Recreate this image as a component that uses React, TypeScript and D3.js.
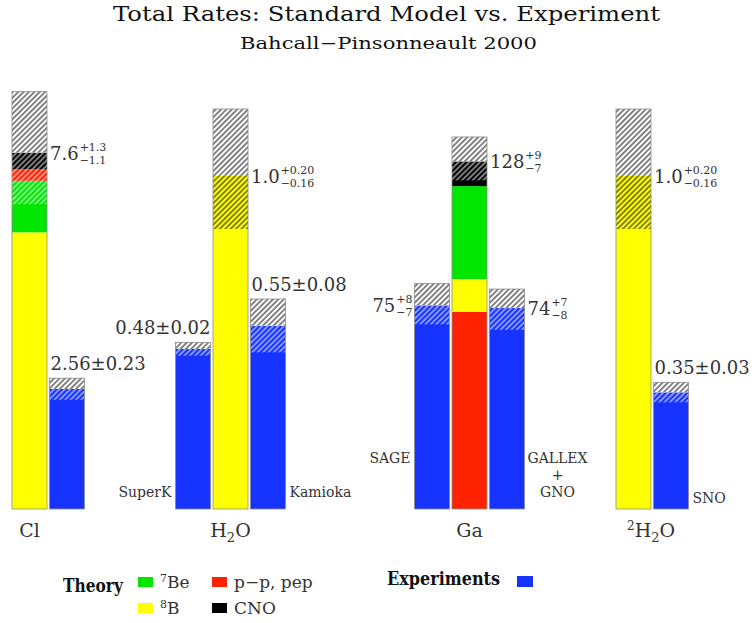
import * as d3 from "d3";
import { useRef, useEffect } from "react";

const width = 756;
const height = 623;

// panels (detector target)
const groupNames = ["Cl", "H2O", "Ga", "2H2O"];
// value at the top of each panel's 400 px column
const groupMax = [8.53, 1.2, 147.3, 1.2];

// theory (BP2000), components stacked from the bottom
const theoryKeys = [
  ["B8", "Be7", "pep", "CNO"],
  ["B8"],
  ["pp", "B8", "Be7", "CNO"],
  ["B8"],
];
const theoryValues = [
  [5.9, 1.1, 0.25, 0.35],
  [1.0],
  [72.6, 12.1, 34.2, 9.1],
  [1.0],
];
const theoryTotal = [7.6, 1.0, 128, 1.0];
const theoryErrPlus = [1.3, 0.2, 9, 0.2];
const theoryErrMinus = [1.1, 0.16, 7, 0.16];
const theoryMainFormat = [".1f", ".1f", "d", ".1f"];
const theoryErrFormat = [".1f", ".2f", "d", ".2f"];

// experiments
const expGroup = [0, 1, 1, 2, 2, 3];
const expNames = [[], ["SuperK"], ["Kamioka"], ["SAGE"], ["GALLEX", "+", "GNO"], ["SNO"]];
const expValue = [2.56, 0.48, 0.55, 75, 74, 0.35];
const expErrPlus = [0.23, 0.02, 0.08, 8, 7, 0.03];
const expErrMinus = [0.23, 0.02, 0.08, 7, 8, 0.03];
const expFormat = [".2f", ".2f", ".2f", "d", "d", ".2f"];

const colors: Record<string, string> = {
  B8: "#ffff00",
  Be7: "#00e600",
  pp: "#ff2200",
  pep: "#ff2200",
  CNO: "#000000",
  exp: "#1633ff",
};

// layout
const baseY = 509;
const colH = 400;
const barW = 35;
const pitch = 37.5;
const theoryX = [12, 213, 452, 616];
const expSlot = [1, -1, 1, -1, 1, 1];
const expLabelSide = [false, false, false, true, true, false];

const font = "'DejaVu Serif', serif";
const textColor = "#333";

export default function App() {
  const ref = useRef<SVGSVGElement>(null);

  useEffect(() => {
    const svg = d3.select(ref.current);
    svg.selectAll("*").remove();

    const defs = svg.append("defs");
    [["hatch-dark", "#222", 1], ["hatch-light", "#ffffff", 0.85]].forEach(([id, c, o]) => {
      const p = defs.append("pattern")
        .attr("id", id as string)
        .attr("patternUnits", "userSpaceOnUse")
        .attr("width", 3.8)
        .attr("height", 3.8)
        .attr("patternTransform", "rotate(45)");
      p.append("line")
        .attr("x1", 1.9).attr("y1", -1).attr("x2", 1.9).attr("y2", 5)
        .attr("stroke", c as string)
        .attr("stroke-opacity", o as number)
        .attr("stroke-width", 1.1);
    });

    // title
    svg.append("text")
      .attr("x", 113).attr("y", 21)
      .attr("font-family", font).attr("font-size", 20)
      .attr("textLength", 547).attr("lengthAdjust", "spacingAndGlyphs")
      .attr("fill", "#111")
      .text("Total Rates: Standard Model vs. Experiment");
    svg.append("text")
      .attr("x", 240).attr("y", 49)
      .attr("font-family", font).attr("font-size", 17)
      .attr("textLength", 297).attr("lengthAdjust", "spacingAndGlyphs")
      .attr("fill", "#111")
      .text("Bahcall\u2212Pinsonneault 2000");

    const yScales = groupMax.map(m => d3.scaleLinear().domain([0, m]).range([baseY, baseY - colH]));

    // one column: stacked pieces, white piece above, hatched error band
    function drawColumn(x: number, y: d3.ScaleLinear<number, number>, keys: string[], values: number[],
                        total: number, errPlus: number, errMinus: number) {
      const ends = d3.cumsum(values);
      const top = ends[ends.length - 1];
      const segs = values.map((v, i) => ({ start: ends[i] - v, end: ends[i], color: colors[keys[i]] }));
      segs.push({ start: top, end: total + errPlus, color: "#ffffff" });
      const lo = total - errMinus, hi = total + errPlus;
      const g = svg.append("g");
      g.selectAll("rect.seg")
        .data(segs)
        .join("rect")
          .attr("class", "seg")
          .attr("x", x).attr("width", barW)
          .attr("y", d => y(d.end))
          .attr("height", d => y(d.start) - y(d.end))
          .attr("fill", d => d.color);
      g.selectAll("rect.hatch")
        .data(segs.map(d => ({ ...d, a: Math.max(d.start, lo), b: Math.min(d.end, hi) })).filter(d => d.b > d.a))
        .join("rect")
          .attr("class", "hatch")
          .attr("x", x).attr("width", barW)
          .attr("y", d => y(d.b))
          .attr("height", d => y(d.a) - y(d.b))
          .attr("fill", d => (d.color === "#ffffff" || d.color === colors.B8) ? "url(#hatch-dark)" : "url(#hatch-light)");
      g.append("rect")
        .attr("x", x).attr("width", barW)
        .attr("y", y(hi)).attr("height", y(0) - y(hi))
        .attr("fill", "none").attr("stroke", "#8c8c8c").attr("stroke-width", 0.8);
    }

    // value label with optional stacked sup/sub errors
    function drawValueLabel(x: number, baseline: number, anchor: string, main: string, sup?: string, sub?: string) {
      const g = svg.append("g").attr("font-family", font).attr("fill", textColor);
      const t = g.append("text").attr("x", 0).attr("y", 0).attr("font-size", 18).text(main);
      const w = (t.node() as SVGTextElement).getComputedTextLength();
      let total = w;
      if (sup !== undefined) {
        const s1 = g.append("text").attr("x", w + 1).attr("y", -9).attr("font-size", 11).text(sup);
        const s2 = g.append("text").attr("x", w + 1).attr("y", 4).attr("font-size", 11).text(sub!);
        total = w + 1 + Math.max((s1.node() as SVGTextElement).getComputedTextLength(),
                                 (s2.node() as SVGTextElement).getComputedTextLength());
      }
      g.attr("transform", `translate(${anchor === "end" ? x - total : x},${baseline})`);
    }

    // theory columns
    groupNames.forEach((_, gi) => {
      const y = yScales[gi];
      drawColumn(theoryX[gi], y, theoryKeys[gi], theoryValues[gi], theoryTotal[gi], theoryErrPlus[gi], theoryErrMinus[gi]);
      const fm = d3.format(theoryMainFormat[gi]);
      const fe = d3.format(theoryErrFormat[gi]);
      drawValueLabel(theoryX[gi] + barW + 3, y(theoryTotal[gi]) + 7, "start",
        fm(theoryTotal[gi]), "+" + fe(theoryErrPlus[gi]), "\u2212" + fe(theoryErrMinus[gi]));
    });

    // experiment columns
    expValue.forEach((v, i) => {
      const gi = expGroup[i];
      const y = yScales[gi];
      const x = theoryX[gi] + expSlot[i] * pitch;
      const left = expSlot[i] < 0;
      drawColumn(x, y, ["exp"], [v], v, expErrPlus[i], expErrMinus[i]);
      const f = d3.format(expFormat[i]);
      if (expLabelSide[i]) {
        drawValueLabel(left ? x - 2 : x + barW + 3, y(v) + 7, left ? "end" : "start",
          f(v), "+" + f(expErrPlus[i]), "\u2212" + f(expErrMinus[i]));
      } else {
        drawValueLabel(left ? x + barW : x + 1, y(v + expErrPlus[i]) - 8, left ? "end" : "start",
          `${f(v)}\u00b1${f(expErrPlus[i])}`);
      }
      // detector names
      const names = expNames[i];
      if (names.length) {
        const nx = left ? x - 4 : x + barW + 4;
        const multi = names.length > 1;
        const lastY = gi === 3 ? 503 : 497;
        const firstY = lastY - (names.length - 1) * 17;
        svg.append("g")
          .attr("font-family", font).attr("font-size", 14).attr("fill", textColor)
          .selectAll("text")
          .data(names)
          .join("text")
            .attr("x", multi ? nx + 29 : nx)
            .attr("y", (_, k) => (gi === 2 && !multi ? 463 : firstY + k * 17))
            .attr("text-anchor", multi ? "middle" : (left ? "end" : "start"))
            .text(d => d);
      }
    });

    // panel labels
    const lab = svg.append("g").attr("font-family", font).attr("font-size", 19).attr("fill", textColor);
    lab.append("text").attr("x", theoryX[0] + barW / 2).attr("y", 537).attr("text-anchor", "middle").text("Cl");
    const h2o = lab.append("text").attr("x", theoryX[1] + barW / 2).attr("y", 537).attr("text-anchor", "middle");
    h2o.append("tspan").text("H");
    h2o.append("tspan").attr("dy", 5).attr("font-size", 13).text("2");
    h2o.append("tspan").attr("dy", -5).text("O");
    lab.append("text").attr("x", theoryX[2] + barW / 2).attr("y", 537).attr("text-anchor", "middle").text("Ga");
    const d2o = lab.append("text").attr("x", theoryX[3] + 11).attr("y", 537);
    d2o.append("tspan").attr("dy", -7).attr("font-size", 12).text("2");
    d2o.append("tspan").attr("dy", 7).text("H");
    d2o.append("tspan").attr("dy", 5).attr("font-size", 13).text("2");
    d2o.append("tspan").attr("dy", -5).text("O");

    // legend
    const leg = svg.append("g").attr("font-family", font);
    leg.append("text").attr("x", 63).attr("y", 592).attr("font-size", 18).attr("font-weight", "bold")
      .attr("textLength", 60).attr("lengthAdjust", "spacingAndGlyphs").attr("fill", "#111").text("Theory");
    const items = [
      { key: "Be7", sup: "7", label: "Be", x: 138, y: 577 },
      { key: "pep", sup: "", label: "p\u2212p, pep", x: 212, y: 577 },
      { key: "B8", sup: "8", label: "B", x: 138, y: 603 },
      { key: "CNO", sup: "", label: "CNO", x: 212, y: 603 },
    ];
    items.forEach(it => {
      leg.append("rect").attr("x", it.x).attr("y", it.y).attr("width", 15).attr("height", 10).attr("fill", colors[it.key]);
      const t = leg.append("text").attr("x", it.x + 22).attr("y", it.y + 11).attr("font-size", 17).attr("fill", textColor);
      if (it.sup) {
        t.append("tspan").attr("dy", -6).attr("font-size", 11).text(it.sup);
        t.append("tspan").attr("dy", 6).text(it.label);
      } else {
        t.text(it.label);
      }
    });
    leg.append("text").attr("x", 387).attr("y", 585).attr("font-size", 18).attr("font-weight", "bold")
      .attr("textLength", 113).attr("lengthAdjust", "spacingAndGlyphs").attr("fill", "#111").text("Experiments");
    leg.append("rect").attr("x", 517).attr("y", 576).attr("width", 16).attr("height", 11).attr("fill", colors.exp);
  }, []);

  return (
    <svg ref={ref} width={width} height={height} viewBox={`0 0 ${width} ${height}`}
         style={{ position: "absolute", left: 0, top: 0, background: "#fff" }} />
  );
}
